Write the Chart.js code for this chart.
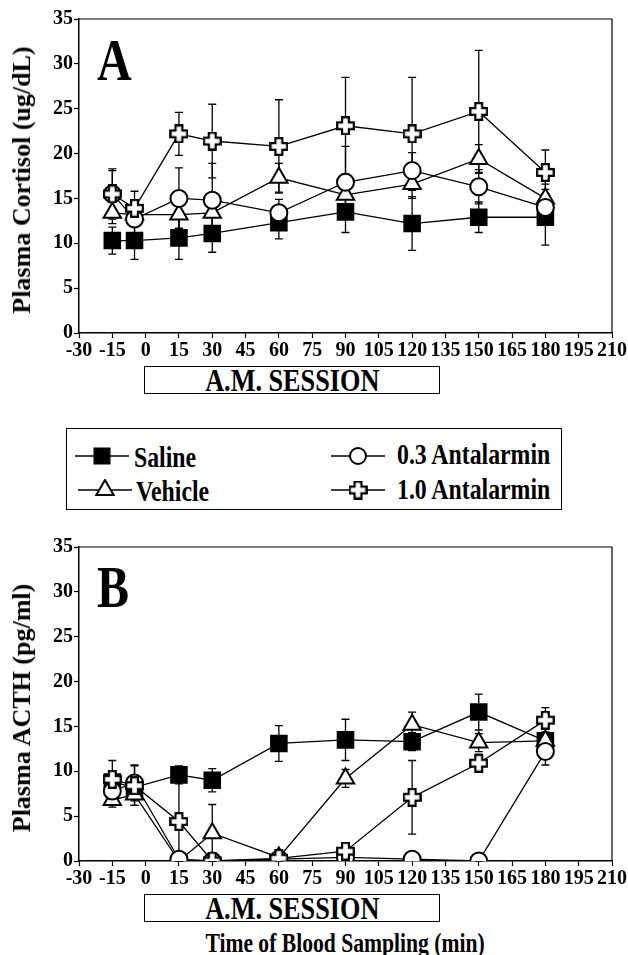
<!DOCTYPE html>
<html lang="en">
<head>
<meta charset="UTF-8">
<title>Plasma Cortisol and ACTH</title>
<script src="https://cdn.jsdelivr.net/npm/chart.js"></script>
<style>
    body {
        margin: 0;
        width: 628px;
        height: 955px;
        position: relative;
        overflow: hidden;
        background: #ffffff;
        color: #000000;
        font-family: 'Liberation Serif', 'Times New Roman', serif;
        font-weight: bold;
    }

    canvas.chart {
        position: absolute;
        left: 0;
    }

    .txt {
        position: absolute;
        white-space: nowrap;
        line-height: 1;
    }

    .squeeze {
        transform-origin: 0 50%;
        transform: scaleX(0.82);
    }

    .ytitle {
        position: absolute;
        left: 22px;
        white-space: nowrap;
        font-size: 26px;
        line-height: 1;
        transform: translate(-50%, -50%) rotate(-90deg);
    }

    .panel-letter {
        position: absolute;
        left: 97px;
        font-size: 60px;
        line-height: 1;
        transform-origin: 0 50%;
        transform: scaleX(0.8);
    }

    .session {
        position: absolute;
        left: 144px;
        width: 296px;
        height: 28px;
        border: 1.5px solid #000;
        box-sizing: border-box;
        display: flex;
        justify-content: center;
        align-items: center;
    }

    .session span {
        font-size: 32px;
        line-height: 1;
        transform: scaleX(0.82);
    }

    .xtitle {
        position: absolute;
        left: 345px;
        top: 930px;
        font-size: 27px;
        line-height: 1;
        white-space: nowrap;
        transform: translateX(-50%) scaleX(0.8);
    }

    .legend {
        position: absolute;
        left: 66px;
        top: 428px;
        width: 496px;
        height: 82px;
        border: 1.5px solid #000;
        box-sizing: border-box;
    }

    .legend canvas {
        position: absolute;
    }

    .legend .txt {
        font-size: 29px;
    }
</style>
</head>
<body>
    <!-- Panel A -->
    <canvas id="chartA" class="chart" width="628" height="360" style="top:0px"></canvas>
    <div class="panel-letter" style="top:30px">A</div>
    <div class="ytitle" style="top:180px">Plasma Cortisol (ug/dL)</div>
    <div class="session" style="top:366px"><span>A.M. SESSION</span></div>

    <!-- Legend -->
    <div class="legend" id="legend"></div>

    <!-- Panel B -->
    <canvas id="chartB" class="chart" width="628" height="360" style="top:528px"></canvas>
    <div class="panel-letter" style="top:557px">B</div>
    <div class="ytitle" style="top:708px">Plasma ACTH (pg/ml)</div>
    <div class="session" style="top:894px"><span>A.M. SESSION</span></div>
    <div class="xtitle">Time of Blood Sampling (min)</div>

<script>
    // Sampling times (min)
    const times = [-15, -5, 15, 30, 60, 90, 120, 150, 180];
    const xTicks = [-30, -15, 0, 15, 30, 45, 60, 75, 90, 105, 120, 135, 150, 165, 180, 195, 210];
    const yTicks = [0, 2.5, 5, 7.5, 10, 12.5, 15, 17.5, 20, 22.5, 25, 27.5, 30, 32.5, 35];

    const seriesNames = ['Saline', 'Vehicle', '0.3 Antalarmin', '1.0 Antalarmin'];

    // Panel A - plasma cortisol (ug/dL), mean and SEM
    const cortisolSaline = [10.3, 10.3, 10.6, 11.1, 12.3, 13.5, 12.2, 12.9, 12.9];
    const cortisolSalineErr = [1.5, 2.1, 2.4, 2.1, 1.8, 2.3, 3.0, 1.7, 3.1];
    const cortisolVehicle = [13.4, 13.2, 13.2, 13.4, 17.3, 15.4, 16.6, 19.4, 15.0];
    const cortisolVehicleErr = [1.2, 1.0, 1.5, 1.5, 1.6, 1.5, 1.6, 1.6, 1.6];
    const cortisolLow = [15.5, 12.7, 15.0, 14.8, 13.4, 16.8, 18.1, 16.3, 14.0];
    const cortisolLowErr = [2.6, 2.0, 3.4, 4.1, 1.5, 4.0, 2.0, 1.9, 1.5];
    const cortisolHigh = [15.5, 13.9, 22.2, 21.4, 20.8, 23.1, 22.2, 24.7, 17.9];
    const cortisolHighErr = [2.8, 1.9, 2.4, 4.1, 5.2, 5.4, 6.3, 6.8, 2.5];

    // Panel B - plasma ACTH (pg/ml), mean and SEM
    const acthSaline = [8.8, 8.2, 9.6, 9.0, 13.1, 13.5, 13.3, 16.6, 13.4];
    const acthSalineErr = [1.0, 1.0, 1.0, 1.3, 2.0, 2.3, 1.0, 2.0, 1.0];
    const acthVehicle = [6.8, 7.4, 0.0, 3.1, 0.4, 9.2, 15.2, 13.2, 13.4];
    const acthVehicleErr = [0.8, 1.2, 0.2, 3.2, 0.3, 1.0, 1.4, 1.0, 0.8];
    const acthLow = [7.8, 8.7, 0.2, 0.0, 0.2, 0.4, 0.2, 0.0, 12.2];
    const acthLowErr = [1.0, 2.0, 0.1, 0.1, 0.1, 0.3, 0.1, 0.1, 1.5];
    const acthHigh = [9.1, 8.4, 4.4, 0.0, 0.3, 1.1, 7.1, 10.9, 15.7];
    const acthHighErr = [2.1, 2.2, 4.8, 0.1, 0.3, 0.9, 4.1, 1.0, 1.4];

    // Outlined cross marker (not a built-in point style)
    function makePlus(size) {
        const c = document.createElement('canvas');
        c.width = size;
        c.height = size;
        const g = c.getContext('2d');
        const m = size / 2, h = size / 2 - 1.2, t = size * 0.18;
        g.beginPath();
        g.moveTo(m - t, m - h); g.lineTo(m + t, m - h); g.lineTo(m + t, m - t); g.lineTo(m + h, m - t);
        g.lineTo(m + h, m + t); g.lineTo(m + t, m + t); g.lineTo(m + t, m + h); g.lineTo(m - t, m + h);
        g.lineTo(m - t, m + t); g.lineTo(m - h, m + t); g.lineTo(m - h, m - t); g.lineTo(m - t, m - t);
        g.closePath();
        g.fillStyle = '#ffffff';
        g.fill();
        g.lineWidth = 2.2;
        g.strokeStyle = '#000000';
        g.stroke();
        return c;
    }
    const plusImg = makePlus(19);

    const markerStyles = [
        { pointStyle: 'rect', pointRadius: 11, pointBackgroundColor: '#000000' },
        { pointStyle: 'triangle', pointRadius: 10, pointBackgroundColor: '#ffffff' },
        { pointStyle: 'circle', pointRadius: 8.5, pointBackgroundColor: '#ffffff' },
        { pointStyle: plusImg, pointRadius: 9.5, pointBackgroundColor: '#ffffff' }
    ];

    function makeDataset(i, values, errs) {
        return Object.assign({
            label: seriesNames[i],
            data: times.map((t, k) => ({ x: t, y: values[k] })),
            errors: errs,
            showLine: true,
            borderColor: '#000000',
            borderWidth: 1.3,
            pointBorderColor: '#000000',
            pointBorderWidth: 2,
            tension: 0
        }, markerStyles[i]);
    }

    // Error bars behind the markers, plus the closed frame of the plot
    const errorBars = {
        id: 'errorBars',
        beforeDatasetsDraw(chart) {
            const { ctx } = chart;
            const x = chart.scales.x, y = chart.scales.y;
            ctx.save();
            ctx.strokeStyle = '#000000';
            ctx.lineWidth = 1.3;
            chart.data.datasets.forEach(ds => {
                ds.data.forEach((p, k) => {
                    const e = ds.errors[k];
                    const px = x.getPixelForValue(p.x);
                    const top = y.getPixelForValue(p.y + e);
                    const bot = y.getPixelForValue(Math.max(p.y - e, 0));
                    ctx.beginPath();
                    ctx.moveTo(px, top); ctx.lineTo(px, bot);
                    ctx.moveTo(px - 4, top); ctx.lineTo(px + 4, top);
                    ctx.moveTo(px - 4, bot); ctx.lineTo(px + 4, bot);
                    ctx.stroke();
                });
            });
            ctx.restore();
        },
        afterDraw(chart) {
            const { ctx, chartArea: a } = chart;
            ctx.save();
            ctx.strokeStyle = '#000000';
            ctx.lineWidth = 1.2;
            ctx.beginPath();
            ctx.moveTo(a.left, a.top);
            ctx.lineTo(a.right, a.top);
            ctx.lineTo(a.right, a.bottom);
            ctx.stroke();
            ctx.restore();
        }
    };

    const tickFont = { family: 'Liberation Serif', size: 20, weight: 'bold' };

    function makeScales() {
        return {
            x: {
                type: 'linear',
                min: -30,
                max: 210,
                afterFit: s => { s.height = 27; },
                afterBuildTicks: s => { s.ticks = xTicks.map(v => ({ value: v })); },
                ticks: {
                    autoSkip: false,
                    maxRotation: 0,
                    color: '#000000',
                    font: tickFont,
                    padding: 1,
                    callback: v => String(v)
                },
                grid: { drawOnChartArea: false, tickLength: 5, tickColor: '#000000', tickWidth: 1.2 },
                border: { color: '#000000', width: 1.5 }
            },
            y: {
                type: 'linear',
                min: 0,
                max: 35,
                afterFit: s => { s.width = 79; },
                afterBuildTicks: s => { s.ticks = yTicks.map(v => ({ value: v })); },
                ticks: {
                    color: '#000000',
                    font: tickFont,
                    padding: 1,
                    callback: v => (v % 5 === 0 ? String(v) : '')
                },
                grid: { drawOnChartArea: false, tickLength: 5, tickColor: '#000000', tickWidth: 1.2 },
                border: { color: '#000000', width: 1.5 }
            }
        };
    }

    function makeChart(id, sets) {
        return new Chart(document.getElementById(id), {
            type: 'scatter',
            data: { datasets: sets },
            options: {
                responsive: false,
                animation: false,
                events: [],
                layout: { padding: { top: 19, right: 16, bottom: 0, left: 0 } },
                plugins: { legend: { display: false }, tooltip: { enabled: false } },
                scales: makeScales()
            },
            plugins: [errorBars]
        });
    }

    // first dataset is drawn on top
    makeChart('chartA', [
        makeDataset(3, cortisolHigh, cortisolHighErr),
        makeDataset(2, cortisolLow, cortisolLowErr),
        makeDataset(1, cortisolVehicle, cortisolVehicleErr),
        makeDataset(0, cortisolSaline, cortisolSalineErr)
    ]);

    makeChart('chartB', [
        makeDataset(3, acthHigh, acthHighErr),
        makeDataset(2, acthLow, acthLowErr),
        makeDataset(1, acthVehicle, acthVehicleErr),
        makeDataset(0, acthSaline, acthSalineErr)
    ]);

    // Legend: line + marker icons with text, two columns
    function drawMarker(g, i, cx, cy) {
        g.lineWidth = 2;
        g.strokeStyle = '#000000';
        g.beginPath();
        if (i === 0) {
            g.rect(cx - 7.5, cy - 7.5, 15, 15);
            g.fillStyle = '#000000';
        } else if (i === 1) {
            const r = 10;
            g.moveTo(cx, cy - r);
            g.lineTo(cx + r * 0.866, cy + r / 2);
            g.lineTo(cx - r * 0.866, cy + r / 2);
            g.closePath();
            g.fillStyle = '#ffffff';
        } else if (i === 2) {
            g.arc(cx, cy, 8, 0, Math.PI * 2);
            g.fillStyle = '#ffffff';
        } else {
            g.drawImage(plusImg, cx - plusImg.width / 2, cy - plusImg.height / 2);
            return;
        }
        g.fill();
        g.stroke();
    }

    const legendItems = [
        { i: 0, iconLeft: 6, iconTop: 16, textLeft: 67, textTop: 14 },
        { i: 1, iconLeft: 9, iconTop: 50, textLeft: 69, textTop: 48 },
        { i: 2, iconLeft: 262, iconTop: 16, textLeft: 330, textTop: 11 },
        { i: 3, iconLeft: 262, iconTop: 50, textLeft: 330, textTop: 46 }
    ];
    const legend = document.getElementById('legend');
    legendItems.forEach(it => {
        const c = document.createElement('canvas');
        c.width = 60;
        c.height = 22;
        c.style.left = it.iconLeft + 'px';
        c.style.top = it.iconTop + 'px';
        const g = c.getContext('2d');
        g.strokeStyle = '#000000';
        g.lineWidth = 1.3;
        g.beginPath();
        g.moveTo(2, 11);
        g.lineTo(56, 11);
        g.stroke();
        drawMarker(g, it.i, 29, 11);
        legend.appendChild(c);

        const t = document.createElement('div');
        t.className = 'txt squeeze';
        t.style.left = it.textLeft + 'px';
        t.style.top = it.textTop + 'px';
        t.textContent = seriesNames[it.i];
        legend.appendChild(t);
    });
</script>
</body>
</html>
